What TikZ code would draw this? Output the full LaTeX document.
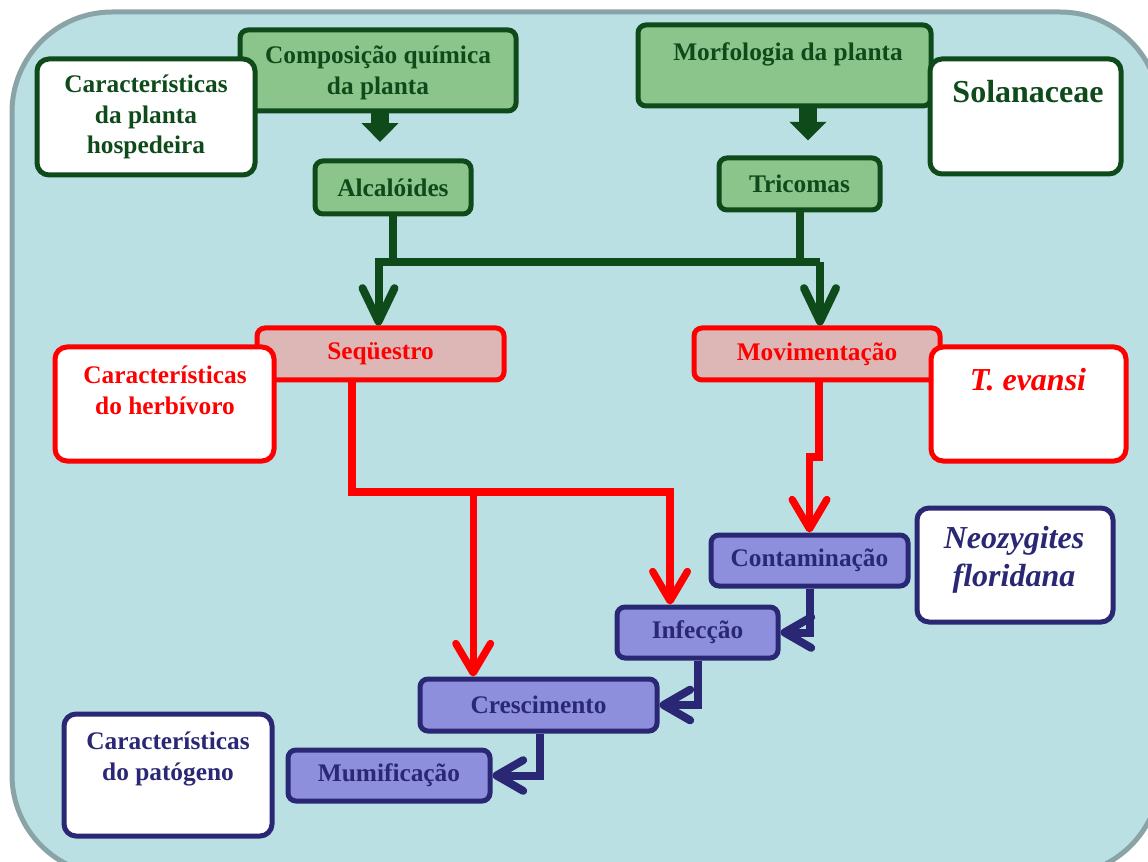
\documentclass[tikz,border=0pt]{standalone}
\usepackage{fontspec}
\setmainfont{Liberation Serif}
\usepackage{xcolor}
\usetikzlibrary{arrows.meta,positioning}

\definecolor{bgblue}{RGB}{186,224,227}
\definecolor{framegrey}{RGB}{138,163,167}
\definecolor{gdark}{RGB}{14,74,26}
\definecolor{gfill}{RGB}{139,197,139}
\definecolor{pfill}{RGB}{221,183,181}
\definecolor{bdark}{RGB}{42,40,116}
\definecolor{bfill}{RGB}{141,143,220}

\tikzset{
  box/.style={draw, rounded corners=6pt, line width=3.75pt, inner sep=0pt, align=center,
    font=\fontsize{19}{23}\selectfont\bfseries},
  gbox/.style={box, draw=gdark, fill=gfill, text=gdark},
  pbox/.style={box, draw=red, fill=pfill, text=red},
  bbox/.style={box, draw=bdark, fill=bfill, text=bdark},
  wbox/.style={box, fill=white, rounded corners=9pt},
  txt/.style={inner sep=0pt, align=center, font=\fontsize{19}{23}\selectfont\bfseries},
  bigtxt/.style={txt, font=\fontsize{24}{28.5}\selectfont\bfseries},
  bigit/.style={txt, font=\fontsize{24}{28.5}\selectfont\bfseries\itshape},
  blockarr/.style={draw=gdark, line width=13.5pt, -{Triangle[length=14pt,width=27pt]}},
  garrow/.style={draw=gdark, line width=6pt, -{Straight Barb[length=25pt,width=24pt,round]}},
  rarrow/.style={draw=red, line width=5.5pt, -{Straight Barb[length=22pt,width=26pt,round]}},
  barrow/.style={draw=bdark, line width=6pt, -{Straight Barb[length=20pt,width=23pt,round]}},
  frame/.style={draw=framegrey, fill=bgblue, line width=3.75pt, rounded corners=75pt}
}

\begin{document}
\begin{tikzpicture}[x=0.75pt,y=0.75pt,yscale=-1,xscale=1]
        \useasboundingbox (0,0) rectangle (1148,862);
        \clip (0,0) rectangle (1148,862);
        %Shape: Rounded Rect [frame]
        \draw[frame] (12,12) rectangle (1160,875);

        %Shapes: planta
        \node[gbox, minimum width=207pt, minimum height=60.75pt] (comp) at (378,70.5) {};
        \node[txt, text=gdark] (comptxt) at (378,73) {Composição química\\da planta};
        \node[gbox, minimum width=219.75pt, minimum height=60.75pt] (morf) at (784.5,65.5) {};
        \node[txt, text=gdark] (morftxt) at (788,54) {Morfologia da planta};
        \node[gbox, minimum width=117pt, minimum height=39.75pt] (alc) at (393,187.5) {Alcalóides};
        \node[gbox, minimum width=120.75pt, minimum height=39pt] (tric) at (799.5,184) {Tricomas};
        %Shapes: herbivoro
        \node[pbox, minimum width=185.25pt, minimum height=39pt] (seq) at (380.5,354) {Seqüestro};
        \node[pbox, minimum width=184.5pt, minimum height=39pt] (mov) at (817,354) {Movimentação};
        %Shapes: patogeno
        \node[bbox, minimum width=147.75pt, minimum height=38.25pt] (cont) at (809.5,560.5) {Contaminação};
        \node[bbox, minimum width=120.75pt, minimum height=38.25pt] (inf) at (697.5,632.5) {Infecção};
        \node[bbox, minimum width=177.75pt, minimum height=39pt] (cres) at (538.5,705) {Crescimento};
        \node[bbox, minimum width=151.5pt, minimum height=38.25pt] (mum) at (389,775.5) {Mumificação};

        %White boxes
        \node[wbox, draw=gdark, text=gdark, minimum width=163.5pt, minimum height=87pt] (hosp) at (146,117) {Características\\da planta\\hospedeira};
        \node[wbox, draw=gdark, minimum width=143.25pt, minimum height=86.25pt] (sol) at (1025.5,116.5) {};
        \node[bigtxt, text=gdark] (soltxt) at (1028,92) {Solanaceae};
        \node[wbox, draw=red, minimum width=164.25pt, minimum height=85.5pt] (herb) at (164.5,404) {};
        \node[txt, text=red] (herbtxt) at (165,390) {Características\\do herbívoro};
        \node[wbox, draw=red, minimum width=146.25pt, minimum height=85.5pt] (tev) at (1028.5,404) {};
        \node[bigit, text=red] (tevtxt) at (1028,380) {T. evansi};
        \node[wbox, draw=bdark, minimum width=147pt, minimum height=85.5pt] (neo) at (1015,565) {};
        \node[bigit, text=bdark] (neotxt) at (1014,560) {Neozygites\\floridana};
        \node[wbox, draw=bdark, minimum width=156pt, minimum height=91.5pt] (pat) at (168,775) {};
        \node[txt, text=bdark] (pattxt) at (168,759) {Características\\do patógeno};

        %Block arrows
        \draw[blockarr, shorten >=12.5pt] ([xshift=1.5pt]comp.south) -- ([xshift=1.5pt]comp.south |- alc.north);
        \draw[blockarr, shorten >=11.25pt] ([xshift=17.6pt]morf.south) -- ([xshift=17.6pt]morf.south |- tric.north);

        %Green lines
        \coordinate (gbus) at (0,262);
        \draw[gdark, line width=6pt] (alc.south) -- (alc.south |- gbus);
        \draw[gdark, line width=6pt] (tric.south) -- (tric.south |- gbus);
        \draw[garrow] ([xshift=2.25pt]mov.north |- gbus) -- ([xshift=-1.5pt]seq.north |- gbus) -- ([xshift=-1.5pt]seq.north);
        \draw[garrow] ([xshift=2.25pt]mov.north |- gbus) -- ([xshift=2.25pt]mov.north);

        %Red lines
        \coordinate (rbus) at (0,492);
        \coordinate (rjog) at (0,457);
        \coordinate (rs) at ([xshift=-21.4pt]seq.south);
        \coordinate (ri) at ([xshift=-20.6pt]inf.north);
        \coordinate (rc) at ([xshift=-49pt]cres.north);
        \draw[rarrow] (rs) -- (rs |- rbus) -- (ri |- rbus) -- (ri);
        \draw[rarrow] (rc |- rbus) -- (rc);
        \draw[rarrow] ([xshift=1.5pt]mov.south) -- ([xshift=1.5pt]mov.south |- rjog) -- (cont.north |- rjog) -- (cont.north);

        %Blue lines
        \draw[barrow] (cont.south) |- (inf.east);
        \draw[barrow] (inf.south) |- (cres.east);
        \draw[barrow] ([xshift=1pt]cres.south) |- (mum.east);
        \end{tikzpicture}
\end{document}
